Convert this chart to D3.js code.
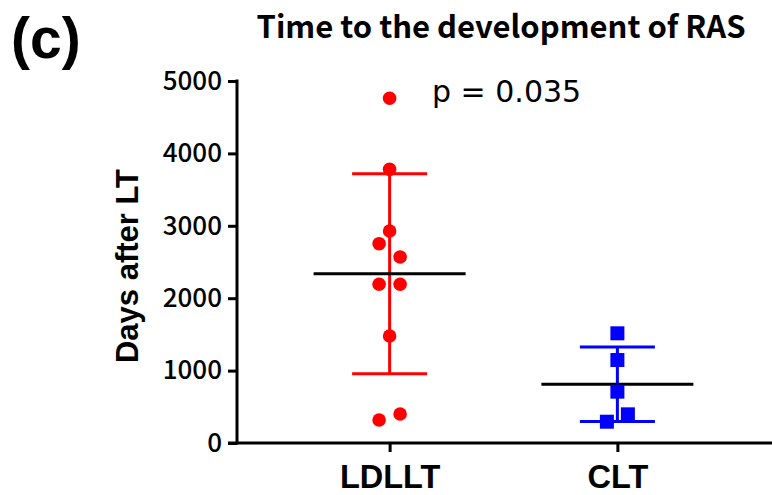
<!DOCTYPE html>
<html>
<head>
<meta charset="utf-8">
<script src="https://cdn.jsdelivr.net/npm/d3@7"></script>
<style>
  body { margin: 0; background: #fff; }
  svg { display: block; }
</style>
</head>
<body>
<div id="chart"></div>
<script>
// data (days after LT)
const groups = ['LDLLT', 'CLT'];
const ldlltDays = [4761, 3780, 2928, 2753, 2569, 2192, 2192, 1478, 400, 318];
const cltDays = [1515, 1146, 709, 396, 294];
const groupColors = ['#ff0000', '#0000ff'];
const yTicks = [0, 1000, 2000, 3000, 4000, 5000];
const titleText = 'Time to the development of RAS';
const pText = 'p = 0.035';

const W = 772, H = 495;
const m = { t: 81, r: 2, b: 52, l: 237 };

const svg = d3.select('#chart').append('svg')
    .attr('width', W)
    .attr('height', H);

const x = d3.scalePoint().domain(groups)
    .range([m.l, W - m.r])
    .padding(0.67);
const y = d3.scaleLinear().domain([0, 5000]).range([H - m.b, m.t]);

// axes
const yAxis = svg.append('g')
    .attr('transform', `translate(${m.l},0)`)
    .call(d3.axisLeft(y).tickValues(yTicks).tickSize(9).tickPadding(6).tickFormat(d3.format('d')));
const xAxis = svg.append('g')
    .attr('transform', `translate(0,${y(0)})`)
    .call(d3.axisBottom(x).tickSize(9).tickPadding(13));

[yAxis, xAxis].forEach(a => {
  a.select('.domain').attr('stroke', '#000').attr('stroke-width', 3);
  a.selectAll('.tick line').attr('stroke', '#000').attr('stroke-width', 3);
});
yAxis.select('.domain').attr('d', `M-9,${y(0)}H0V${y(5000) - 1.5}`);
xAxis.select('.domain').attr('d', `M${m.l},0H${W}`);
yAxis.selectAll('.tick text')
    .attr('font-family', '"Noto Sans CJK JP", sans-serif')
    .attr('font-weight', 500)
    .attr('font-size', 26).attr('fill', '#000');
xAxis.selectAll('.tick text')
    .attr('font-family', '"Liberation Sans", Arial, sans-serif')
    .attr('font-size', 32.5).attr('font-weight', 700).attr('fill', '#000');

// beeswarm-style offsets: nearby points spread left/right
function swarm(vals) {
  const r = vals.map((v, i) => ({ v, i, py: y(v) }))
      .sort((a, b) => b.v - a.v);
  const out = new Array(vals.length).fill(0);
  let cluster = [r[0]];
  const flush = c => {
    if (c.length === 2) {
      const s = c.slice().sort((a, b) => a.v - b.v);
      out[s[0].i] = -1; out[s[1].i] = 1;
    } else if (c.length === 3) {
      out[c[0].i] = 0; out[c[1].i] = -1; out[c[2].i] = 1;
    }
  };
  for (let k = 1; k < r.length; k++) {
    if (r[k].py - r[k - 1].py < 16) cluster.push(r[k]);
    else { flush(cluster); cluster = [r[k]]; }
  }
  flush(cluster);
  return out;
}

const series = [ldlltDays, cltDays];
const step = 10.5;

series.forEach((vals, gi) => {
  const cx = x(groups[gi]);
  const col = groupColors[gi];
  const mean = d3.mean(vals), sd = d3.deviation(vals);
  const g = svg.append('g');

  // SD bar
  g.append('line')
      .attr('x1', cx).attr('x2', cx)
      .attr('y1', y(mean + sd)).attr('y2', y(mean - sd))
      .attr('stroke', col).attr('stroke-width', 3);
  [mean + sd, mean - sd].forEach(v => {
    g.append('line')
        .attr('x1', cx - 37.5).attr('x2', cx + 37.5)
        .attr('y1', y(v)).attr('y2', y(v))
        .attr('stroke', col).attr('stroke-width', 3);
  });

  // mean
  g.append('line')
      .attr('x1', cx - 76).attr('x2', cx + 76)
      .attr('y1', y(mean)).attr('y2', y(mean))
      .attr('stroke', '#000').attr('stroke-width', 3);

  const off = swarm(vals);
  if (gi === 0) {
    g.selectAll('circle').data(vals).join('circle')
        .attr('cx', (d, i) => cx + off[i] * step)
        .attr('cy', d => y(d))
        .attr('r', 6.8)
        .attr('fill', col);
  } else {
    g.selectAll('rect').data(vals).join('rect')
        .attr('x', (d, i) => cx + off[i] * step - 7)
        .attr('y', d => y(d) - 7)
        .attr('width', 14).attr('height', 14)
        .attr('fill', col);
  }
});

// texts
svg.append('text')
    .attr('x', 11).attr('y', 58)
    .attr('font-family', '"Liberation Sans", Arial, sans-serif')
    .attr('font-weight', 700).attr('font-size', 57)
    .text('(c)');

svg.append('text')
    .attr('x', 501).attr('y', 38)
    .attr('text-anchor', 'middle')
    .attr('font-family', '"Noto Sans CJK JP", sans-serif')
    .attr('font-weight', 700).attr('font-size', 31)
    .text(titleText);

svg.append('text')
    .attr('x', 432).attr('y', 102)
    .attr('font-family', '"DejaVu Sans", sans-serif')
    .attr('font-size', 30)
    .text(pText);

svg.append('text')
    .attr('transform', `translate(138,266) rotate(-90)`)
    .attr('text-anchor', 'middle')
    .attr('font-family', '"Liberation Sans", Arial, sans-serif')
    .attr('font-weight', 700).attr('font-size', 31)
    .text('Days after LT');
</script>
</body>
</html>
